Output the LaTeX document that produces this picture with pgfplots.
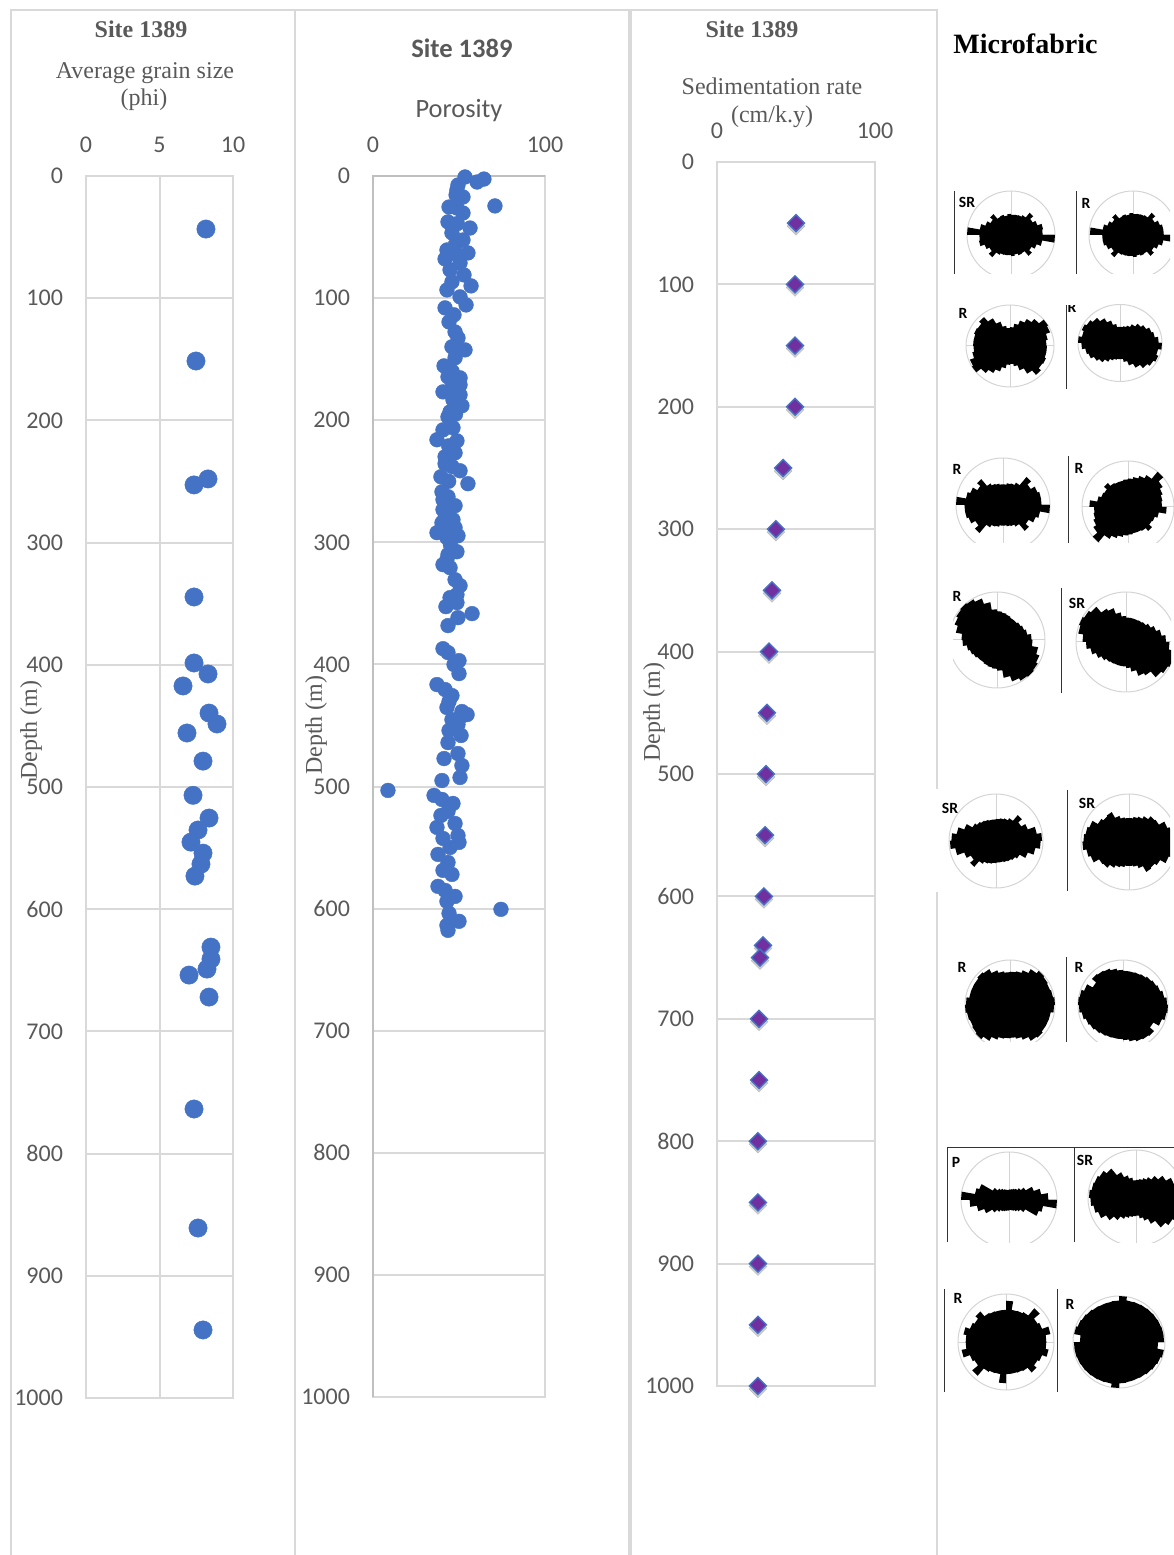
\documentclass[border=0pt]{standalone}
\usepackage{fontspec}
\usepackage{pgfplots}
\usepackage{pgfplotstable}
\pgfplotsset{compat=1.18}
\setmainfont{Liberation Serif}
\newfontfamily\carlito{Carlito}

\definecolor{framegray}{HTML}{D9D9D9}
\definecolor{darkframe}{HTML}{BFBFBF}
\definecolor{textgray}{HTML}{595959}
\definecolor{ptblue}{HTML}{4472C4}
\definecolor{rategrape}{HTML}{7030A0}
\definecolor{rosegray}{HTML}{D4D4D4}

% average grain size (phi), depth (m)
\pgfplotstableread{
x y
8.16 43.4
7.48 151.4
8.30 247.9
7.35 252.8
7.35 344.5
7.35 398.5
8.30 407.5
6.60 417.3
8.37 439.5
8.91 448.4
6.87 455.8
7.96 478.8
7.28 506.8
8.37 525.4
7.62 535.2
7.14 545.1
7.96 554.1
7.82 563.1
7.41 572.9
8.50 631.0
8.50 640.8
8.23 649.0
7.01 653.9
8.37 671.9
7.35 763.5
7.62 860.9
7.96 944.3
}\grainsize

% porosity, depth (m)
\pgfplotstableread{
x y
53.5 0.8
64.5 2.5
60.5 4.9
49.4 7.4
48.8 11.5
48.3 15.5
52.3 17.2
44.2 25.4
70.9 24.5
48.8 26.2
52.3 30.3
43.6 37.6
56.4 42.6
45.9 46.6
49.0 39.0
52.3 52.4
48.0 56.0
43.0 60.6
55.2 63.0
48.8 64.6
41.9 67.9
50.6 71.2
44.8 76.9
52.9 81.0
45.9 86.7
57.0 90.0
43.0 93.3
50.6 99.0
54.1 105.6
41.9 108.0
47.1 113.7
44.2 119.5
47.7 127.7
49.4 132.6
45.9 139.9
53.5 142.4
47.7 148.9
41.3 155.5
46.0 160.0
43.6 164.5
50.6 165.3
50.6 171.0
46.0 173.0
40.7 176.8
50.6 179.2
46.5 183.3
51.7 188.2
44.8 193.1
48.0 195.0
43.6 197.2
46.5 206.2
40.7 207.9
37.2 216.0
48.8 216.9
44.0 221.0
47.7 226.7
41.9 229.9
41.9 235.7
46.0 238.0
50.6 241.4
39.5 246.3
44.0 250.0
55.2 252.0
40.1 258.6
43.6 262.7
40.7 265.1
47.7 270.0
40.7 273.3
44.0 276.0
41.9 279.9
46.5 281.5
40.1 284.0
47.7 288.0
44.0 290.0
37.2 292.1
49.4 294.6
43.0 296.2
45.0 302.0
48.8 307.7
43.6 310.1
43.0 314.2
40.7 318.3
44.8 320.8
47.7 330.6
50.6 335.5
48.8 342.9
44.8 345.3
48.8 349.4
42.4 352.7
57.6 358.4
49.4 361.7
43.6 368.2
40.7 387.1
43.6 390.3
50.0 396.9
47.1 400.1
50.0 407.5
37.2 416.5
41.9 420.6
45.9 425.5
44.2 430.4
43.0 435.3
51.7 438.6
54.7 441.1
50.6 443.5
45.9 445.2
49.4 449.3
44.2 454.1
51.2 458.2
43.6 464.0
49.4 473.0
41.3 477.1
51.7 482.8
50.6 492.6
40.1 495.1
8.7 503.2
35.5 507.3
40.1 510.6
46.5 513.9
43.6 520.4
39.5 523.7
47.7 530.3
37.2 533.5
49.4 540.1
40.7 542.5
50.0 545.8
44.8 549.9
37.8 555.6
43.6 562.2
40.7 568.7
45.9 572.0
37.8 581.8
41.9 585.1
47.7 590.0
43.0 594.1
74.4 600.6
44.2 603.9
50.0 610.4
43.0 613.7
43.6 617.8
}\porosity

% sedimentation rate (cm/k.y), depth (m)
\pgfplotstableread{
x y
50.0 50
49.4 100
49.4 150
49.4 200
41.8 250
37.3 300
34.8 350
32.9 400
31.6 450
31.0 500
30.4 550
29.7 600
29.1 640
27.2 650
26.6 700
26.6 750
25.9 800
25.9 850
25.9 900
25.9 950
25.9 1000
}\sedrate

\pgfplotsset{
  logcol/.style={
    scale only axis,
    clip=false,
    y dir=reverse,
    ymin=0,ymax=1000,
    ytick={0,100,...,1000},
    ymajorgrids,
    grid style={framegray,line width=1pt},
    axis line style={framegray,line width=1pt},
    major tick length=0pt,
    xticklabel pos=top,
    xticklabel shift=8pt,
    yticklabel shift=8pt,
    tick label style={font=\carlito\fontsize{12}{14}\selectfont,text=textgray},
    /pgf/number format/assume math mode=true,
    /pgf/number format/1000 sep={},
  },
  roseaxis/.style={
    anchor=south west,
    scale only axis,
    hide axis,
    y dir=reverse,
    enlargelimits=false,
  },
}

% crop box l t r b, centre cx cy, radii rx ry, ten-degree sector lengths (mirrored)
\newcommand{\rose}[9]{%
  \gdef\pts{}%
  \foreach \off in {0,180}{%
    \foreach \rad [count=\cnt] in {#9}{%
      \pgfmathsetmacro\angA{\off+(\cnt-1)*10}%
      \pgfmathsetmacro\angB{\angA+10}%
      \pgfmathsetmacro\xa{#5+#7*\rad*cos(\angA)}%
      \pgfmathsetmacro\ya{#6-#8*\rad*sin(\angA)}%
      \pgfmathsetmacro\xb{#5+#7*\rad*cos(\angB)}%
      \pgfmathsetmacro\yb{#6-#8*\rad*sin(\angB)}%
      \xdef\pts{\pts (\xa,\ya) (\xb,\yb)}%
    }%
  }%
  \pgfmathsetmacro\bx{#1*0.5}%
  \pgfmathsetmacro\by{(1555-#4)*0.5}%
  \pgfmathsetmacro\bw{(#3-#1)*0.5}%
  \pgfmathsetmacro\bh{(#4-#2)*0.5}%
  \pgfmathsetmacro\rxpt{#7*0.5}%
  \pgfmathsetmacro\rypt{#8*0.5}%
  \begin{axis}[roseaxis,at={(\bx pt,\by pt)},width=\bw pt,height=\bh pt,
      xmin=#1,xmax=#3,ymin=#2,ymax=#4]
    \draw[rosegray,line width=0.5pt] (axis cs:#5,#6) ellipse [x radius=\rxpt pt,y radius=\rypt pt];
    \addplot[rosegray,line width=0.5pt,forget plot] coordinates {(#5-#7,#6) (#5+#7,#6)};
    \addplot[rosegray,line width=0.5pt,forget plot] coordinates {(#5,#6-#8) (#5,#6+#8)};
    \edef\doblob{\noexpand\addplot[fill=black,draw=none,forget plot] coordinates {\pts};}\doblob
  \end{axis}%
}

\begin{document}
\begin{tikzpicture}[x=1pt,y=1pt]
\path[use as bounding box] (0,0) rectangle (587pt,777.5pt);

% grain size
\begin{axis}[logcol,at={(43pt,78.5pt)},anchor=south west,width=73.5pt,height=611pt,
    xmin=0,xmax=10,xtick={0,5,10},xmajorgrids]
  \addplot[only marks,mark=*,mark size=4.6pt,mark options={fill=ptblue,draw=ptblue,line width=0.2pt}] table[x=x,y=y] {\grainsize};
\end{axis}

% porosity
\begin{axis}[logcol,at={(186.5pt,79pt)},anchor=south west,width=86pt,height=610.5pt,
    xmin=0,xmax=100,xtick={0,100}]
  \addplot[darkframe,line width=1pt,forget plot] coordinates {(0,1000) (0,0) (100,0)};
  \addplot[only marks,mark=*,mark size=3.7pt,mark options={fill=ptblue,draw=ptblue,line width=0.2pt}] table[x=x,y=y] {\porosity};
\end{axis}

% sedimentation rate
\begin{axis}[logcol,at={(358.5pt,84.5pt)},anchor=south west,width=79pt,height=612pt,
    xmin=0,xmax=100,xtick={0,100}]
  \addplot[only marks,mark=square*,mark size=3.2pt,
    mark options={yshift=-1.5pt,rotate=45,fill=black,draw=black,line width=0.1pt,opacity=0.2},forget plot] table[x=x,y=y] {\sedrate};
  \addplot[only marks,mark=square*,mark size=3pt,
    mark options={rotate=45,fill=rategrape,draw=ptblue,line width=0.7pt}] table[x=x,y=y] {\sedrate};
\end{axis}

% microfabric roses
\rose{955}{191}{1073}{274}{1011}{235}{44}{44}{.72,.74,.64,.57,.66,.52,.48,.47,.46,.48,.45,.49,.48,.62,.54,.62,.72,1.0}
\rose{1077}{191}{1170}{274}{1133}{235}{44}{44}{.70,.70,.65,.57,.66,.52,.50,.49,.48,.50,.47,.50,.49,.62,.55,.62,.70,.98}
\rose{955}{300}{1065}{395}{1010}{346}{44}{41}{.83,.87,.97,1.0,.86,.76,.66,.55,.46,.44,.50,.63,.78,.92,.85,.87,.84,.84}
\rose{1067}{305}{1174}{389}{1120}{343}{42}{38.5}{.92,.84,.80,.72,.65,.56,.48,.44,.42,.42,.50,.62,.74,.85,.92,.97,.92,1.0}
\rose{950}{455}{1066}{543}{1003}{505}{47}{47}{.82,.82,.78,.68,.78,.55,.49,.47,.44,.44,.46,.48,.53,.72,.63,.74,.80,1.0}
\rose{1069}{456}{1174}{543}{1128}{507}{46}{46}{.74,.76,.80,.87,1.0,.80,.72,.66,.62,.60,.58,.58,.60,.68,.60,.62,.68,.84}
\rose{953}{585}{1060}{693}{997}{640}{48}{48}{.72,.64,.60,.57,.54,.54,.56,.58,.60,.64,.80,.92,.98,1.0,.98,.94,.87,.74}
\rose{1062}{588}{1171}{693}{1126}{642}{50}{50}{.80,.72,.64,.57,.52,.50,.49,.49,.49,.52,.60,.72,.77,.92,.97,1.0,.97,.87}
\rose{940}{790}{1060}{895}{996}{841}{47}{47}{.98,.88,.72,.62,.72,.56,.51,.49,.47,.46,.46,.48,.50,.53,.58,.72,.85,.95}
\rose{1068}{790}{1170}{891}{1129}{842}{48}{48}{.97,.90,.85,.72,.70,.62,.56,.53,.50,.50,.52,.58,.72,.70,.75,.88,.92,.95}
\rose{955}{955}{1065}{1042}{1010}{1005}{45}{45}{1.0,.97,.95,.97,.99,.92,.82,.76,.74,.73,.76,.82,.92,.95,.92,.92,.92,.98}
\rose{1067}{957}{1174}{1042}{1123}{1005}{45}{45}{.98,.93,.88,.85,.82,.79,.77,.76,.76,.78,.82,.86,.88,.90,.78,.92,.98,1.0}
\rose{948}{1148}{1073}{1242}{1009}{1200}{48}{48}{.82,.68,.55,.40,.32,.27,.25,.23,.22,.21,.22,.24,.27,.31,.39,.66,.72,1.0}
\rose{1075}{1148}{1174}{1242}{1136}{1198}{48}{48}{.95,.90,.84,.72,.60,.50,.44,.40,.38,.37,.43,.50,.62,.80,.88,.92,.94,.98}
\rose{945}{1289}{1056}{1392}{1006}{1342}{48}{48}{.84,.94,.80,.76,.92,.72,.69,.68,.86,.67,.67,.68,.70,.83,.76,.80,.90,.84}
\rose{1058}{1289}{1174}{1392}{1119}{1342}{46}{46}{.98,.98,.97,.96,.95,.94,.93,.92,1.0,.90,.89,.89,.90,.92,.94,.96,.99,.85}

% panel frames, rules and text on a page-sized axis
\begin{axis}[roseaxis,at={(0pt,0pt)},width=587pt,height=777.5pt,
    xmin=0,xmax=1174,ymin=0,ymax=1555,clip=false]
  \addplot[framegray,line width=1.2pt,forget plot] coordinates {(11,1555) (11,10) (937,10) (937,789)};
  \addplot[framegray,line width=1.2pt,forget plot] coordinates {(937,892) (937,1555)};
  \addplot[framegray,line width=1.2pt,forget plot] coordinates {(295,10) (295,1555)};
  \addplot[framegray,line width=1.8pt,forget plot] coordinates {(630,10) (630,1555)};
  \addplot[black!80,line width=0.5pt,forget plot] coordinates {(954,191) (954,274)};
  \addplot[black!80,line width=0.5pt,forget plot] coordinates {(1076,191) (1076,274)};
  \addplot[black!80,line width=0.5pt,forget plot] coordinates {(1066,305) (1066,389)};
  \addplot[black!80,line width=0.5pt,forget plot] coordinates {(1068,456) (1068,543)};
  \addplot[black!80,line width=0.5pt,forget plot] coordinates {(1061,588) (1061,693)};
  \addplot[black!80,line width=0.5pt,forget plot] coordinates {(1067,790) (1067,891)};
  \addplot[black!80,line width=0.5pt,forget plot] coordinates {(1066,957) (1066,1042)};
  \addplot[black!80,line width=0.5pt,forget plot] coordinates {(947,1242) (947,1147) (1174,1147)};
  \addplot[black!80,line width=0.5pt,forget plot] coordinates {(1074,1147) (1074,1242)};
  \addplot[black!80,line width=0.5pt,forget plot] coordinates {(944,1289) (944,1392)};
  \addplot[black!80,line width=0.5pt,forget plot] coordinates {(1057,1289) (1057,1392)};

  \begin{scope}[every node/.style={text=textgray,font=\fontsize{12}{14}\selectfont,inner sep=0pt}]
    \node[font=\bfseries\fontsize{12}{14}\selectfont] at (axis cs:141,29) {Site 1389};
    \node at (axis cs:145,73) {Average grain size};
    \node at (axis cs:144,100) {(phi)};
    \node[rotate=90] at (axis cs:31,730) {Depth (m)};
    \node[rotate=90] at (axis cs:316,725) {Depth (m)};
    \node[rotate=90] at (axis cs:654,712) {Depth (m)};
    \node[font=\carlito\bfseries\fontsize{13.3}{16}\selectfont] at (axis cs:462,48) {Site 1389};
    \node[font=\carlito\fontsize{13.2}{16}\selectfont] at (axis cs:459,111) {Porosity};
    \node[font=\bfseries\fontsize{12}{14}\selectfont] at (axis cs:752,29) {Site 1389};
    \node at (axis cs:772,86) {Sedimentation rate};
    \node at (axis cs:772,117) {(cm/k.y)};
  \end{scope}
  \node[anchor=west,inner sep=0pt,font=\bfseries\fontsize{14}{17}\selectfont] at (axis cs:953,44) {Microfabric};

  \begin{scope}[every node/.style={font=\carlito\bfseries\fontsize{7.8}{9}\selectfont,inner sep=0pt}]
    \node at (axis cs:967,202) {SR};
    \node at (axis cs:1086,203) {R};
    \node at (axis cs:963,313) {R};
    \begin{scope}
      \clip (axis cs:1067,305) rectangle (1085,330);
      \node at (axis cs:1072,307) {R};
    \end{scope}
    \node at (axis cs:957,469) {R};
    \node at (axis cs:1079,468) {R};
    \node at (axis cs:957,596) {R};
    \node at (axis cs:1077,603) {SR};
    \node at (axis cs:950,808) {SR};
    \node at (axis cs:1087,803) {SR};
    \node at (axis cs:962,967) {R};
    \node at (axis cs:1079,967) {R};
    \node at (axis cs:956,1162) {P};
    \node at (axis cs:1085,1160) {SR};
    \node at (axis cs:958,1298) {R};
    \node at (axis cs:1070,1304) {R};
  \end{scope}
\end{axis}
\end{tikzpicture}
\end{document}
